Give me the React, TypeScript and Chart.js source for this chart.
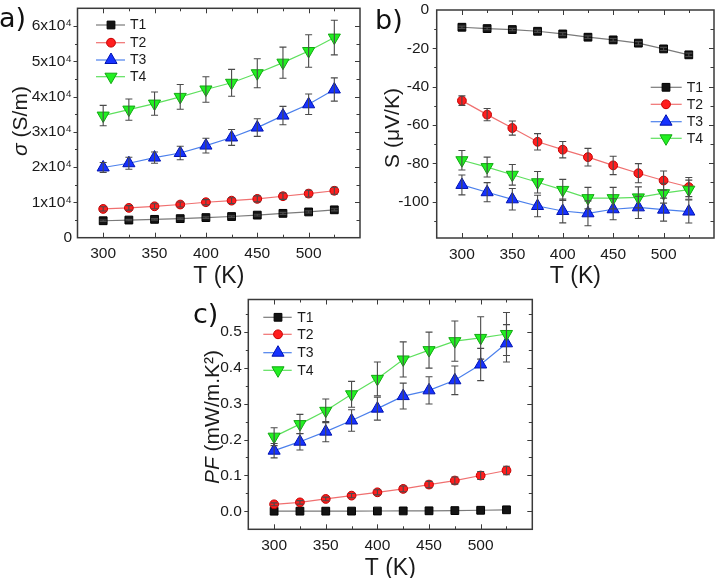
import React, { useEffect, useRef } from 'react';
import { Chart, registerables } from 'chart.js';

Chart.register(...registerables);

const FONT = '"Liberation Sans", Arial, Helvetica, sans-serif';
const TEXT = '#1a1a1a';
const AXIS = '#3a3a3a';

// ---------- shared data ----------
const temperatures = [300, 325, 350, 375, 400, 425, 450, 475, 500, 525];
const seriesNames = ['T1', 'T2', 'T3', 'T4'];
const tempTicks = [300, 350, 400, 450, 500];

// a) electrical conductivity sigma (S/m)
const sigmaT1 = [4800, 5000, 5200, 5400, 5700, 6000, 6400, 6900, 7300, 7900];
const sigmaT2 = [8150, 8450, 8900, 9400, 10050, 10500, 11000, 11750, 12500, 13300];
const sigmaT3 = [19900, 21100, 22700, 24000, 26100, 28400, 31200, 34600, 37800, 42000];
const sigmaT4 = [34600, 36300, 38000, 39900, 42000, 43900, 46600, 49600, 52900, 56700];
const sigmaErrT1 = [200, 200, 210, 220, 230, 240, 260, 280, 290, 310];
const sigmaErrT2 = [600, 650, 700, 700, 750, 800, 850, 900, 950, 1000];
const sigmaErrT3 = [1400, 1700, 1600, 1900, 2100, 2250, 2500, 2600, 2900, 3300];
const sigmaErrT4 = [2900, 3000, 3300, 3500, 3600, 3800, 4100, 4400, 4600, 4900];
const sigmaTicks = [0, 10000, 20000, 30000, 40000, 50000, 60000];
const sigmaTickLabels = ['0', '1x10⁴', '2x10⁴', '3x10⁴', '4x10⁴', '5x10⁴', '6x10⁴'];

// b) Seebeck coefficient S (uV/K)
const seebeckT1 = [-9.0, -9.7, -10.2, -11.1, -12.5, -14.2, -15.6, -17.3, -20.3, -23.4];
const seebeckT2 = [-47.3, -54.6, -61.6, -68.8, -72.9, -76.8, -81.1, -85.2, -89.0, -92.4];
const seebeckT3 = [-91.3, -95.1, -98.8, -102.3, -104.9, -106.1, -104.0, -103.0, -104.2, -105.2];
const seebeckT4 = [-78.4, -82.0, -86.0, -89.9, -93.9, -98.2, -98.2, -97.8, -95.6, -93.8];
const seebeckErrT1 = [0.6, 0.6, 0.6, 0.6, 0.7, 0.7, 0.7, 0.8, 0.8, 0.9];
const seebeckErrT2 = [2.5, 3.2, 3.7, 4.3, 4.3, 4.6, 4.8, 5.0, 5.0, 5.0];
const seebeckErrT3 = [5.2, 5.0, 5.6, 5.6, 6.2, 6.5, 5.5, 5.8, 6.0, 6.0];
const seebeckErrT4 = [5.1, 5.2, 5.4, 5.6, 5.5, 5.6, 5.6, 5.5, 5.2, 5.0];
const seebeckTicks = [0, -20, -40, -60, -80, -100];
const seebeckTickLabels = ['0', '-20', '-40', '-60', '-80', '-100'];

// c) power factor PF (mW/m.K^2)
const pfT1 = [0.0004, 0.0005, 0.0005, 0.0007, 0.0009, 0.0012, 0.0015, 0.0021, 0.003, 0.0043];
const pfT2 = [0.0196, 0.025, 0.0345, 0.0438, 0.053, 0.0625, 0.0746, 0.0858, 0.0998, 0.1138];
const pfT3 = [0.169, 0.194, 0.222, 0.253, 0.286, 0.321, 0.337, 0.365, 0.409, 0.468];
const pfT4 = [0.208, 0.243, 0.28, 0.326, 0.369, 0.423, 0.449, 0.474, 0.483, 0.494];
const pfErrT1 = [0, 0, 0, 0, 0, 0, 0, 0, 0, 0];
const pfErrT2 = [0.004, 0.005, 0.005, 0.006, 0.007, 0.008, 0.009, 0.01, 0.011, 0.012];
const pfErrT3 = [0.02, 0.023, 0.028, 0.03, 0.032, 0.036, 0.038, 0.04, 0.045, 0.052];
const pfErrT4 = [0.025, 0.027, 0.033, 0.036, 0.047, 0.049, 0.05, 0.056, 0.059, 0.06];
const pfTicks = [0, 0.1, 0.2, 0.3, 0.4, 0.5];
const pfTickLabels = ['0.0', '0.1', '0.2', '0.3', '0.4', '0.5'];

// ---------- styles ----------
type SeriesStyle = { fill: string; border: string; line: string; point: string; radius: number; rotation: number };
const seriesStyles: SeriesStyle[] = [
  { fill: '#141414', border: '#000000', line: '#7a7a7a', point: 'rect', radius: 5.5, rotation: 0 },
  { fill: '#ff1e1e', border: '#c40000', line: '#f07070', point: 'circle', radius: 4.4, rotation: 0 },
  { fill: '#1632ff', border: '#0012b0', line: '#4c80ec', point: 'triangle', radius: 7, rotation: 0 },
  { fill: '#22f022', border: '#12a812', line: '#5ee05e', point: 'triangle', radius: 7, rotation: 180 },
];

type PanelSpec = {
  left: number; top: number; width: number; height: number;
  area: { left: number; top: number; right: number; bottom: number };
  xMin: number; xMax: number; xMinorStep: number;
  yMin: number; yMax: number; yMinorStep: number;
  yTicks: number[]; yTickLabels: string[];
  values: number[][]; errors: number[][];
  yLabelPad: number; xLabelPad: number; xTitlePad: number;
  legend: { x1: number; x2: number; xm: number; xt: number; ys: number[] };
};

const panelA: PanelSpec = {
  left: 0, top: 0, width: 368, height: 292,
  area: { left: 77.5, top: 8.3, right: 361.7, bottom: 237.7 },
  xMin: 275, xMax: 550, xMinorStep: 25,
  yMin: 0, yMax: 65000, yMinorStep: 5000,
  yTicks: sigmaTicks, yTickLabels: sigmaTickLabels,
  values: [sigmaT1, sigmaT2, sigmaT3, sigmaT4],
  errors: [sigmaErrT1, sigmaErrT2, sigmaErrT3, sigmaErrT4],
  yLabelPad: 5.5, xLabelPad: 7, xTitlePad: 3.5,
  legend: { x1: 96, x2: 125, xm: 111, xt: 130, ys: [25, 42.7, 60, 76.7] },
};

const panelB: PanelSpec = {
  left: 362, top: 0, width: 360, height: 292,
  area: { left: 74.7, top: 10, right: 358, bottom: 238 },
  xMin: 275, xMax: 550, xMinorStep: 25,
  yMin: -119, yMax: 0, yMinorStep: 10,
  yTicks: seebeckTicks, yTickLabels: seebeckTickLabels,
  values: [seebeckT1, seebeckT2, seebeckT3, seebeckT4],
  errors: [seebeckErrT1, seebeckErrT2, seebeckErrT3, seebeckErrT4],
  yLabelPad: 7.5, xLabelPad: 7, xTitlePad: 3.5,
  legend: { x1: 288.7, x2: 319.7, xm: 304, xt: 324.7, ys: [87.3, 104.3, 121.7, 138.3] },
};

const panelC: PanelSpec = {
  left: 180, top: 290, width: 380, height: 288,
  area: { left: 68.3, top: 9.5, right: 352.3, bottom: 239.3 },
  xMin: 275, xMax: 550, xMinorStep: 25,
  yMin: -0.05, yMax: 0.59, yMinorStep: 0.05,
  yTicks: pfTicks, yTickLabels: pfTickLabels,
  values: [pfT1, pfT2, pfT3, pfT4],
  errors: [pfErrT1, pfErrT2, pfErrT3, pfErrT4],
  yLabelPad: 6.5, xLabelPad: 7, xTitlePad: -2.5,
  legend: { x1: 83.3, x2: 111.7, xm: 98, xt: 117.3, ys: [27.3, 44.3, 62.7, 80.3] },
};

function drawMarker(ctx: CanvasRenderingContext2D, s: SeriesStyle, x: number, y: number) {
  ctx.save();
  ctx.fillStyle = s.fill;
  ctx.strokeStyle = s.border;
  ctx.lineWidth = 1;
  ctx.beginPath();
  const r = s.radius;
  if (s.point === 'rect') {
    const h = r * Math.SQRT1_2;
    ctx.rect(x - h, y - h, 2 * h, 2 * h);
  } else if (s.point === 'circle') {
    ctx.arc(x, y, r, 0, Math.PI * 2);
  } else {
    let a = (s.rotation * Math.PI) / 180;
    for (let k = 0; k < 3; k++) {
      const px = x + Math.sin(a) * r;
      const py = y - Math.cos(a) * r;
      if (k === 0) ctx.moveTo(px, py);
      else ctx.lineTo(px, py);
      a += (2 * Math.PI) / 3;
    }
    ctx.closePath();
  }
  ctx.fill();
  ctx.stroke();
  ctx.restore();
}

function tickList(min: number, max: number, step: number, majors: number[]) {
  const out: { v: number; major: boolean }[] = [];
  const span = max - min;
  const start = Math.ceil(min / step - 1e-9);
  const end = Math.floor(max / step + 1e-9);
  for (let k = start; k <= end; k++) {
    const v = Math.round(k * step * 1e6) / 1e6;
    if (v - min < span * 0.004 || max - v < span * 0.004) continue;
    out.push({ v, major: majors.some((m) => Math.abs(m - v) < 1e-7) });
  }
  return out;
}

function buildConfig(spec: PanelSpec): any {
  const datasets = spec.values.map((vals, i) => ({
    label: seriesNames[i],
    data: temperatures.map((t, j) => ({ x: t, y: vals[j] })),
    borderColor: seriesStyles[i].line,
    backgroundColor: seriesStyles[i].fill,
    borderWidth: 1.2,
    pointStyle: seriesStyles[i].point,
    pointRadius: seriesStyles[i].radius,
    pointRotation: seriesStyles[i].rotation,
    pointBackgroundColor: seriesStyles[i].fill,
    pointBorderColor: seriesStyles[i].border,
    pointBorderWidth: 1,
    tension: 0,
    fill: false,
    order: 4 - i,
  }));

  const decor = {
    id: 'panelDecor',
    afterDatasetsDraw(chart: any) {
      const ctx: CanvasRenderingContext2D = chart.ctx;
      const xs = chart.scales.x;
      const ys = chart.scales.y;
      ctx.save();
      ctx.strokeStyle = '#4a4a4a';
      ctx.lineWidth = 1.1;
      spec.errors.forEach((errs, i) => {
        errs.forEach((e, j) => {
          if (!e) return;
          const v = spec.values[i][j];
          const px = xs.getPixelForValue(temperatures[j]);
          const y1 = ys.getPixelForValue(v + e);
          const y2 = ys.getPixelForValue(v - e);
          ctx.beginPath();
          ctx.moveTo(px, y1);
          ctx.lineTo(px, y2);
          ctx.moveTo(px - 3.5, y1);
          ctx.lineTo(px + 3.5, y1);
          ctx.moveTo(px - 3.5, y2);
          ctx.lineTo(px + 3.5, y2);
          ctx.stroke();
        });
      });
      ctx.restore();
    },
    afterDraw(chart: any) {
      const ctx: CanvasRenderingContext2D = chart.ctx;
      const { left, right, top, bottom } = chart.chartArea;
      const xs = chart.scales.x;
      const ys = chart.scales.y;
      ctx.save();
      ctx.strokeStyle = AXIS;
      ctx.lineWidth = 1.5;
      ctx.strokeRect(left, top, right - left, bottom - top);
      ctx.lineWidth = 1;
      ctx.beginPath();
      for (const t of tickList(spec.xMin, spec.xMax, spec.xMinorStep, tempTicks)) {
        const px = Math.round(xs.getPixelForValue(t.v)) + 0.5;
        const len = t.major ? 5 : 3;
        ctx.moveTo(px, bottom);
        ctx.lineTo(px, bottom - len);
        ctx.moveTo(px, top);
        ctx.lineTo(px, top + len);
      }
      for (const t of tickList(spec.yMin, spec.yMax, spec.yMinorStep, spec.yTicks)) {
        const py = Math.round(ys.getPixelForValue(t.v)) + 0.5;
        const len = t.major ? 4 : 2.5;
        ctx.moveTo(left, py);
        ctx.lineTo(left - len, py);
        ctx.moveTo(right, py);
        ctx.lineTo(right - len - 1, py);
      }
      ctx.stroke();
      ctx.restore();

      // legend
      const lg = spec.legend;
      seriesNames.forEach((name, i) => {
        const y = lg.ys[i];
        ctx.save();
        ctx.strokeStyle = seriesStyles[i].line;
        ctx.lineWidth = 1.2;
        ctx.beginPath();
        ctx.moveTo(lg.x1, y);
        ctx.lineTo(lg.x2, y);
        ctx.stroke();
        drawMarker(ctx, seriesStyles[i], lg.xm, y);
        ctx.fillStyle = TEXT;
        ctx.font = `14px ${FONT}`;
        ctx.textBaseline = 'middle';
        ctx.textAlign = 'left';
        ctx.fillText(name, lg.xt, y + 0.5);
        ctx.restore();
      });
    },
  };

  return {
    type: 'line',
    data: { datasets },
    plugins: [decor],
    options: {
      responsive: false,
      maintainAspectRatio: false,
      animation: false,
      devicePixelRatio: 1,
      events: [],
      layout: {
        padding: {
          left: 0,
          top: spec.area.top,
          right: spec.width - spec.area.right,
          bottom: 0,
        },
      },
      plugins: { legend: { display: false }, tooltip: { enabled: false }, title: { display: false } },
      scales: {
        x: {
          type: 'linear',
          position: 'bottom',
          min: spec.xMin,
          max: spec.xMax,
          grid: { display: false, drawTicks: false },
          border: { display: false },
          afterBuildTicks: (s: any) => {
            s.ticks = tempTicks.map((v) => ({ value: v }));
          },
          afterFit: (s: any) => {
            s.height = spec.height - spec.area.bottom;
            s.paddingLeft = 0;
            s.paddingRight = 0;
          },
          ticks: {
            autoSkip: false,
            maxRotation: 0,
            padding: spec.xLabelPad,
            color: TEXT,
            font: { family: FONT, size: 15.5 },
          },
          title: {
            display: true,
            text: 'T (K)',
            color: TEXT,
            font: { family: FONT, size: 23, lineHeight: 1 },
            padding: { top: 0, bottom: spec.xTitlePad },
          },
        },
        y: {
          type: 'linear',
          position: 'left',
          min: spec.yMin,
          max: spec.yMax,
          grid: { display: false, drawTicks: false },
          border: { display: false },
          afterBuildTicks: (s: any) => {
            s.ticks = spec.yTicks.map((v) => ({ value: v }));
          },
          afterFit: (s: any) => {
            s.width = spec.area.left;
            s.paddingTop = 0;
            s.paddingBottom = 0;
          },
          ticks: {
            autoSkip: false,
            padding: spec.yLabelPad,
            color: TEXT,
            font: { family: FONT, size: 15.5 },
            callback: (v: number) => {
              const k = spec.yTicks.findIndex((t) => Math.abs(t - v) < 1e-9);
              return k >= 0 ? spec.yTickLabels[k] : '';
            },
          },
          title: { display: false },
        },
      },
    },
  };
}

function Panel({ spec }: { spec: PanelSpec }) {
  const ref = useRef<HTMLCanvasElement>(null);
  useEffect(() => {
    const canvas = ref.current;
    if (!canvas) return;
    const chart = new Chart(canvas, buildConfig(spec));
    return () => chart.destroy();
  }, [spec]);
  return (
    <canvas
      ref={ref}
      width={spec.width}
      height={spec.height}
      style={{ position: 'absolute', left: spec.left, top: spec.top, width: spec.width, height: spec.height }}
    />
  );
}

const yTitleStyle = (cx: number, cy: number): React.CSSProperties => ({
  position: 'absolute',
  left: cx,
  top: cy,
  transform: 'translate(-50%, -50%) rotate(-90deg)',
  whiteSpace: 'nowrap',
  fontFamily: FONT,
  fontSize: 21,
  lineHeight: '21px',
  color: TEXT,
});

const panelLabelStyle = (x: number, y: number): React.CSSProperties => ({
  position: 'absolute',
  left: x,
  top: y,
  fontFamily: '"DejaVu Sans", Arial, sans-serif',
  fontSize: 27,
  lineHeight: '27px',
  color: '#111',
  whiteSpace: 'nowrap',
});

export default function App() {
  return (
    <div
      style={{
        position: 'absolute',
        left: 0,
        top: 0,
        width: 722,
        height: 578,
        background: '#ffffff',
        overflow: 'hidden',
      }}
    >
      <Panel spec={panelA} />
      <Panel spec={panelB} />
      <Panel spec={panelC} />
      <div style={yTitleStyle(19, 121)}>
        <i>σ</i> (S/m)
      </div>
      <div style={yTitleStyle(390.5, 127.5)}>S (μV/K)</div>
      <div style={yTitleStyle(211, 416.7)}>
        <i>PF</i> (mW/m.K²)
      </div>
      <div style={panelLabelStyle(-1, 4)}>a)</div>
      <div style={panelLabelStyle(375, 6)}>b)</div>
      <div style={panelLabelStyle(193, 300)}>c)</div>
    </div>
  );
}
